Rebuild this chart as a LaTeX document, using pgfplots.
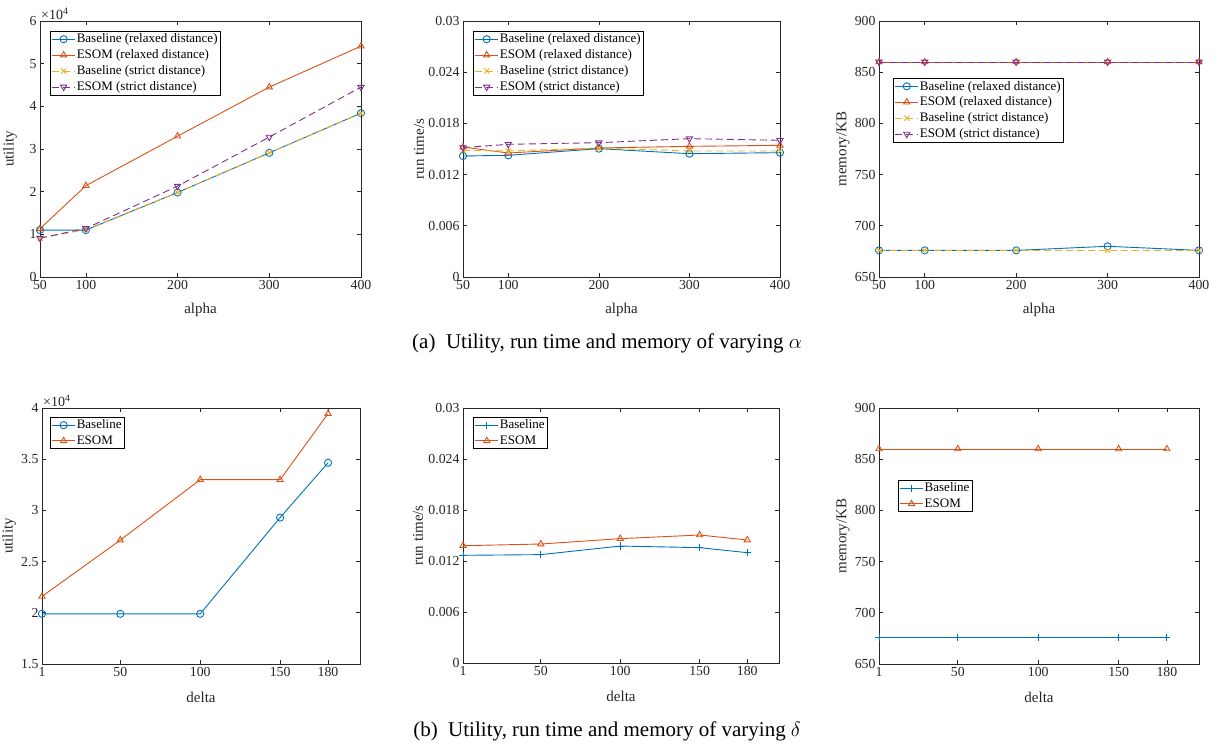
\documentclass[border=0pt]{standalone}
\usepackage{fontspec}
\setmainfont{Liberation Serif}
\usepackage{pgfplots}
\pgfplotsset{compat=1.18}

\definecolor{mblue}{rgb}{0,0.447,0.741}
\definecolor{morange}{rgb}{0.85,0.325,0.098}
\definecolor{myellow}{rgb}{0.929,0.694,0.125}
\definecolor{mpurple}{rgb}{0.494,0.184,0.556}
\definecolor{axgray}{rgb}{0.15,0.15,0.15}

\pgfplotsset{
  mstyle/.style={
    scale only axis, height=256pt,
    axis line style={axgray, line width=0.7pt},
    tick align=inside, tick pos=both,
    major tick length=4pt,
    every tick/.style={axgray, line width=0.7pt},
    xticklabel style={font=\fontsize{13.8}{15}\selectfont, text=axgray},
    yticklabel style={font=\fontsize{13.8}{15}\selectfont, text=axgray},
    label style={font=\fontsize{15}{16}\selectfont, text=axgray},
    /pgf/number format/assume math mode=true,
    scaled y ticks=false, scaled x ticks=false,
    xlabel style={at={(axis description cs:0.5,-0.129)}, anchor=center},
    legend style={font=\fontsize{13}{14}\selectfont, draw=black, line width=0.5pt,
      anchor=north west, cells={anchor=west}, inner xsep=1.5pt, inner ysep=1.5pt,
      nodes={inner sep=1.2pt}, row sep=3pt},
    legend image code/.code={\draw[mark repeat=2,mark phase=2,#1] plot coordinates {(0pt,0pt) (11.5pt,0pt) (23pt,0pt)};},
    every axis plot/.append style={line width=0.9pt, mark size=3.6pt},
    clip=false,
  },
  dsh/.style={dash pattern=on 7pt off 4pt},
}

\begin{document}
\begin{tikzpicture}
\path[use as bounding box] (0,0) rectangle (1220pt,-749pt);

% ---------- (a) utility ----------
\begin{axis}[mstyle, at={(40pt,-277pt)}, anchor=south west, width=321pt,
  xmin=50, xmax=400, xtick={50,100,200,300,400},
  ymin=0, ymax=60000, ytick={0,10000,20000,30000,40000,50000,60000},
  yticklabels={0,1,2,3,4,5,6},
  xlabel={alpha}, ylabel={utility},
  ylabel style={at={(axis description cs:-0.0935,0.5)}, anchor=center},
  legend style={at={(0.031,0.961)}}]
\addplot[color=mblue, mark=o] coordinates {(50,11000) (100,11000) (200,19800) (300,29100) (400,38400)};
\addlegendentry{Baseline (relaxed distance)}
\addplot[color=morange, mark=triangle] coordinates {(50,11300) (100,21400) (200,33000) (300,44500) (400,54100)};
\addlegendentry{ESOM (relaxed distance)}
\addplot[color=myellow, mark=x, dsh, mark options={solid}] coordinates {(50,9100) (100,11100) (200,19800) (300,29100) (400,38400)};
\addlegendentry{Baseline (strict distance)}
\addplot[color=mpurple, mark=triangle, dsh, mark options={solid, rotate=180}] coordinates {(50,9100) (100,11400) (200,21300) (300,32800) (400,44500)};
\addlegendentry{ESOM (strict distance)}
\node[anchor=south west, inner sep=1pt, font=\fontsize{14}{15}\selectfont, text=axgray] at (rel axis cs:0,1) {×10\textsuperscript{4}};
\end{axis}

% ---------- (a) run time ----------
\begin{axis}[mstyle, at={(463pt,-277pt)}, anchor=south west, width=317pt,
  xmin=50, xmax=400, xtick={50,100,200,300,400},
  ymin=0, ymax=0.03, ytick={0,0.006,0.012,0.018,0.024,0.03},
  yticklabels={0,0.006,0.012,0.018,0.024,0.03},
  xlabel={alpha}, ylabel={run time/s},
  ylabel style={at={(axis description cs:-0.1390,0.5)}, anchor=center},
  legend style={at={(0.0315,0.961)}}]
\addplot[color=mblue, mark=o] coordinates {(50,0.01418) (100,0.01426) (200,0.01504) (300,0.01445) (400,0.01457)};
\addlegendentry{Baseline (relaxed distance)}
\addplot[color=morange, mark=triangle] coordinates {(50,0.01523) (100,0.01453) (200,0.01512) (300,0.01531) (400,0.01543)};
\addlegendentry{ESOM (relaxed distance)}
\addplot[color=myellow, mark=x, dsh, mark options={solid}] coordinates {(50,0.01484) (100,0.01477) (200,0.01512) (300,0.01477) (400,0.01477)};
\addlegendentry{Baseline (strict distance)}
\addplot[color=mpurple, mark=triangle, dsh, mark options={solid, rotate=180}] coordinates {(50,0.01516) (100,0.01555) (200,0.01574) (300,0.01621) (400,0.01602)};
\addlegendentry{ESOM (strict distance)}
\end{axis}

% ---------- (a) memory ----------
\begin{axis}[mstyle, at={(879pt,-277pt)}, anchor=south west, width=320pt,
  xmin=50, xmax=400, xtick={50,100,200,300,400},
  ymin=650, ymax=900, ytick={650,700,750,800,850,900},
  xlabel={alpha}, ylabel={memory/KB},
  ylabel style={at={(axis description cs:-0.1125,0.5)}, anchor=center},
  legend style={at={(0.044,0.777)}}]
\addplot[color=mblue, mark=o] coordinates {(50,676) (100,676) (200,676) (300,680) (400,676)};
\addlegendentry{Baseline (relaxed distance)}
\addplot[color=morange, mark=triangle] coordinates {(50,860) (100,860) (200,860) (300,860) (400,860)};
\addlegendentry{ESOM (relaxed distance)}
\addplot[color=myellow, mark=x, dsh, mark options={solid}] coordinates {(50,676) (100,676) (200,676) (300,676) (400,676)};
\addlegendentry{Baseline (strict distance)}
\addplot[color=mpurple, mark=triangle, dsh, mark options={solid, rotate=180}] coordinates {(50,860) (100,860) (200,860) (300,860) (400,860)};
\addlegendentry{ESOM (strict distance)}
\end{axis}

\node[font=\fontsize{21}{24}\selectfont] at (607pt,-343pt) {(a)\enskip Utility, run time and memory of varying $\alpha$};

% ---------- (b) utility ----------
\begin{axis}[mstyle, at={(42pt,-664pt)}, anchor=south west, width=318pt,
  xmin=1, xmax=200, xtick={1,50,100,150,180},
  ymin=15000, ymax=40000, ytick={15000,20000,25000,30000,35000,40000},
  yticklabels={1.5,2,2.5,3,3.5,4},
  xlabel={delta}, ylabel={utility},
  ylabel style={at={(axis description cs:-0.1038,0.5)}, anchor=center},
  legend style={at={(0.025,0.965)}}]
\addplot[color=mblue, mark=o] coordinates {(1,19900) (50,19900) (100,19900) (150,29300) (180,34650)};
\addlegendentry{Baseline}
\addplot[color=morange, mark=triangle] coordinates {(1,21600) (50,27100) (100,33000) (150,33000) (180,39450)};
\addlegendentry{ESOM}
\node[anchor=south west, inner sep=1pt, font=\fontsize{14}{15}\selectfont, text=axgray] at (rel axis cs:0,1) {×10\textsuperscript{4}};
\end{axis}

% ---------- (b) run time ----------
\begin{axis}[mstyle, at={(463pt,-663pt)}, anchor=south west, width=316pt, height=255pt,
  xmin=1, xmax=200, xtick={1,50,100,150,180},
  ymin=0, ymax=0.03, ytick={0,0.006,0.012,0.018,0.024,0.03},
  yticklabels={0,0.006,0.012,0.018,0.024,0.03},
  xlabel={delta}, ylabel={run time/s},
  ylabel style={at={(axis description cs:-0.1424,0.5)}, anchor=center},
  legend style={at={(0.032,0.965)}}]
\addplot[color=mblue, mark=+] coordinates {(1,0.01267) (50,0.01275) (100,0.01376) (150,0.01357) (180,0.01298)};
\addlegendentry{Baseline}
\addplot[color=morange, mark=triangle] coordinates {(1,0.0138) (50,0.0140) (100,0.01463) (150,0.01506) (180,0.01447)};
\addlegendentry{ESOM}
\end{axis}

% ---------- (b) memory ----------
\begin{axis}[mstyle, at={(879pt,-664pt)}, anchor=south west, width=320pt,
  xmin=1, xmax=200, xtick={1,50,100,150,180},
  ymin=650, ymax=900, ytick={650,700,750,800,850,900},
  xlabel={delta}, ylabel={memory/KB},
  ylabel style={at={(axis description cs:-0.1125,0.5)}, anchor=center},
  legend style={at={(0.059,0.719)}}]
\addplot[color=mblue, mark=+] coordinates {(1,676) (50,676) (100,676) (150,676) (180,676)};
\addlegendentry{Baseline}
\addplot[color=morange, mark=triangle] coordinates {(1,860) (50,860) (100,860) (150,860) (180,860)};
\addlegendentry{ESOM}
\end{axis}

\node[font=\fontsize{21}{24}\selectfont] at (607pt,-731pt) {(b)\enskip Utility, run time and memory of varying $\delta$};
\end{tikzpicture}
\end{document}
